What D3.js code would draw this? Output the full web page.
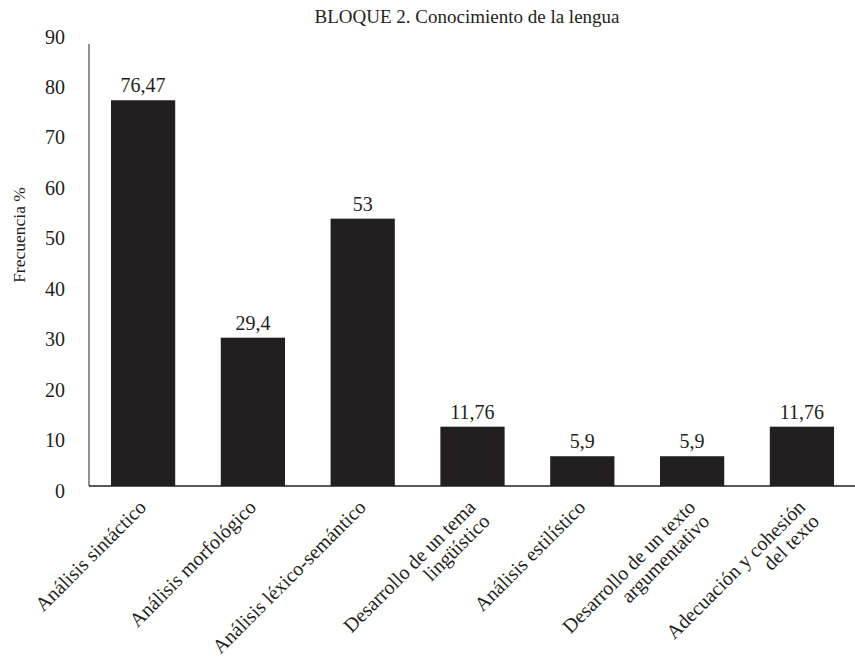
<!DOCTYPE html>
<html>
<head>
<meta charset="utf-8">
<script src="https://cdn.jsdelivr.net/npm/d3@7"></script>
<style>
  body { margin: 0; background: #fff; }
  text { font-family: "Liberation Serif", serif; fill: #231f20; }
</style>
</head>
<body>
<script>
// datos
var categorias = [
  ["Análisis sintáctico"],
  ["Análisis morfológico"],
  ["Análisis léxico-semántico"],
  ["Desarrollo de un tema", "lingüístico"],
  ["Análisis estilístico"],
  ["Desarrollo de un texto", "argumentativo"],
  ["Adecuación y cohesión", "del texto"]
];
var valores = [76.47, 29.4, 53, 11.76, 5.9, 5.9, 11.76];
var etiquetas = ["76,47", "29,4", "53", "11,76", "5,9", "5,9", "11,76"];
var ticksY = [0, 10, 20, 30, 40, 50, 60, 70, 80, 90];

var width = 855, height = 664;
var margin = {top: 32, bottom: 178, left: 89, right: 0};

var svg = d3.select("body").append("svg")
    .attr("width", width)
    .attr("height", height);

var x = d3.scaleBand()
    .domain(d3.range(valores.length))
    .range([margin.left, 856])
    .paddingInner(0.415)
    .paddingOuter(0.2);
var y = d3.scaleLinear()
    .domain([0, 90])
    .range([height - margin.bottom, margin.top]);

// titulo
svg.append("text")
    .attr("x", 467).attr("y", 23)
    .attr("text-anchor", "middle")
    .style("font-size", "19px")
    .text("BLOQUE 2. Conocimiento de la lengua");

// etiqueta eje y
svg.append("text")
    .attr("transform", "translate(25,235) rotate(-90)")
    .attr("text-anchor", "middle")
    .style("font-size", "17.5px")
    .text("Frecuencia %");

// barras
svg.selectAll("rect.bar").data(valores).enter().append("rect")
    .attr("class", "bar")
    .attr("x", function(d, i){ return x(i); })
    .attr("y", function(d){ return y(d); })
    .attr("width", x.bandwidth())
    .attr("height", function(d){ return y(0) - y(d); })
    .attr("fill", "#231f20");

// valores
svg.selectAll("text.val").data(valores).enter().append("text")
    .attr("class", "val")
    .attr("x", function(d, i){ return x(i) + x.bandwidth() / 2; })
    .attr("y", function(d){ return y(d) - 8; })
    .attr("text-anchor", "middle")
    .style("font-size", "20px")
    .text(function(d, i){ return etiquetas[i]; });

// eje y
var yAxis = d3.axisLeft(y).tickValues(ticksY).tickSize(0).tickPadding(24);
var gy = svg.append("g")
    .attr("transform", "translate(" + margin.left + ",0)")
    .call(yAxis);
gy.select(".domain").remove();
gy.selectAll("text")
    .style("font-size", "20px")
    .attr("dy", "0.55em");
svg.append("line")
    .attr("x1", margin.left).attr("x2", margin.left)
    .attr("y1", 44).attr("y2", y(0))
    .attr("stroke", "#555").attr("stroke-width", 1.3);

// eje x
svg.append("line")
    .attr("x1", margin.left).attr("x2", 855)
    .attr("y1", y(0)).attr("y2", y(0))
    .attr("stroke", "#231f20").attr("stroke-width", 1.5);

// etiquetas de categoria, giradas y alineadas a la derecha
var lineH = 20;
var cats = svg.selectAll("g.cat").data(categorias).enter().append("g")
    .attr("class", "cat")
    .attr("transform", function(d, i){
      return "translate(" + (x(i) + x.bandwidth() / 2 - 2) + "," + (y(0) + 16) + ") rotate(-45)";
    });
cats.selectAll("text").data(function(d){ return d; }).enter().append("text")
    .attr("text-anchor", "end")
    .style("font-size", "20px")
    .attr("x", 0)
    .attr("y", function(d, j){ return 9 + j * lineH; })
    .text(function(d){ return d; });
</script>
</body>
</html>
